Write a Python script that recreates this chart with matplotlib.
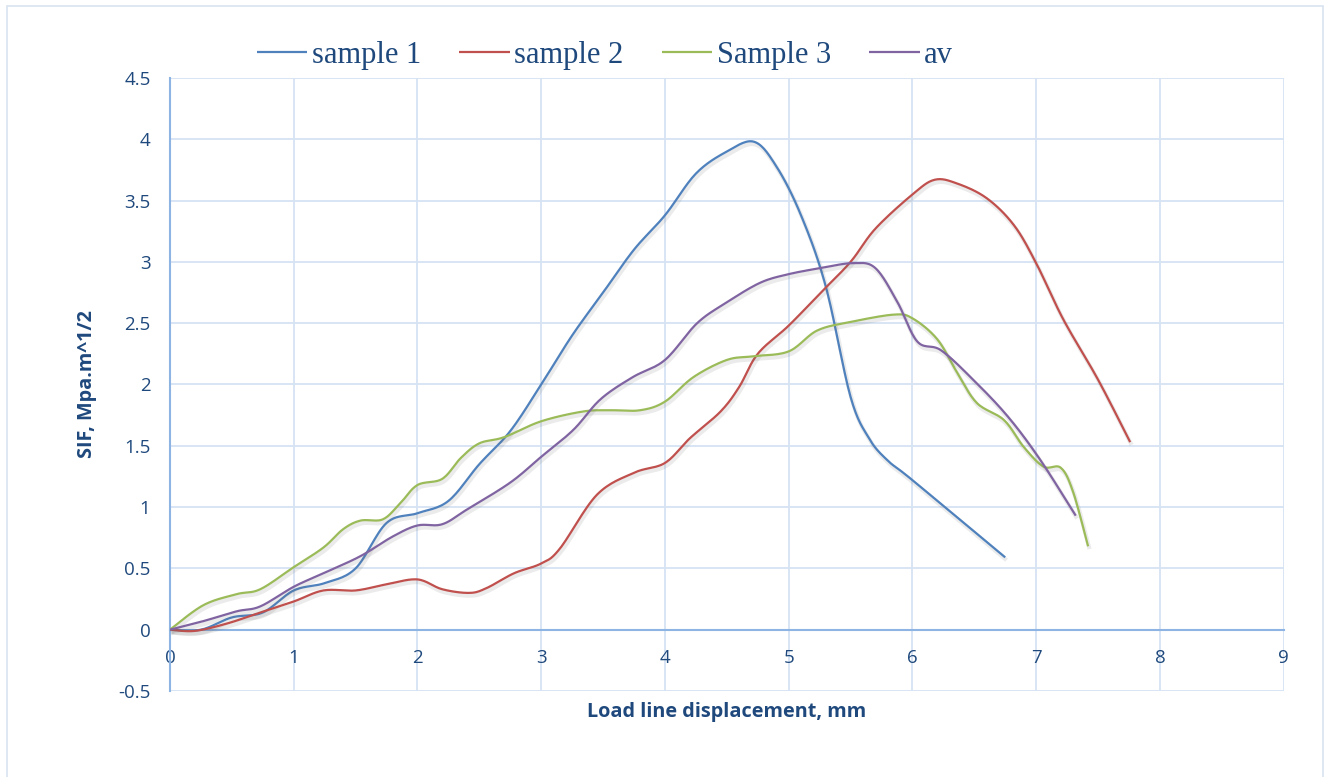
import numpy as np
import matplotlib.pyplot as plt
import matplotlib.patheffects as pe
from matplotlib.patches import Rectangle

# load line displacement (mm) vs SIF readings
x1 = [0, 0.25, 0.5, 0.75, 1.0, 1.25, 1.5, 1.75, 2.0, 2.25, 2.5, 2.75, 3.0, 3.25, 3.5,
      3.75, 4.0, 4.25, 4.5, 4.72, 4.9, 5.1, 5.3, 5.5, 5.65, 5.8, 6.0, 6.75]
y1 = [0, 0.0, 0.1, 0.14, 0.32, 0.38, 0.5, 0.87, 0.95, 1.05, 1.35, 1.62, 2.0, 2.4, 2.75,
      3.1, 3.38, 3.72, 3.9, 3.98, 3.78, 3.38, 2.8, 1.9, 1.56, 1.38, 1.22, 0.59]

x2 = [0, 0.2, 0.46, 0.73, 1.0, 1.24, 1.5, 1.75, 2.0, 2.2, 2.42, 2.56, 2.78, 3.0, 3.15,
      3.45, 3.75, 4.0, 4.2, 4.45, 4.6, 4.75, 5.0, 5.26, 5.5, 5.7, 6.0, 6.18, 6.36,
      6.6, 6.82, 7.0, 7.22, 7.5, 7.76]
y2 = [0, -0.01, 0.05, 0.14, 0.23, 0.32, 0.32, 0.37, 0.41, 0.33, 0.3, 0.34, 0.46, 0.54, 0.66,
      1.1, 1.28, 1.36, 1.56, 1.78, 1.98, 2.25, 2.48, 2.75, 3.0, 3.27, 3.55, 3.67, 3.64,
      3.52, 3.3, 2.99, 2.53, 2.04, 1.53]

x3 = [0, 0.27, 0.54, 0.73, 1.0, 1.24, 1.4, 1.54, 1.72, 1.86, 2.0, 2.2, 2.35, 2.5, 2.7,
      3.0, 3.34, 3.56, 3.8, 4.0, 4.23, 4.5, 4.71, 5.0, 5.23, 5.5, 5.85, 6.0, 6.2, 6.36,
      6.52, 6.74, 6.9, 7.06, 7.2, 7.3, 7.42]
y3 = [0, 0.2, 0.29, 0.33, 0.51, 0.67, 0.82, 0.89, 0.9, 1.03, 1.18, 1.23, 1.4, 1.52, 1.57,
      1.7, 1.78, 1.79, 1.79, 1.86, 2.06, 2.2, 2.23, 2.27, 2.44, 2.51, 2.57, 2.54, 2.37, 2.1,
      1.85, 1.71, 1.49, 1.33, 1.32, 1.12, 0.68]

x4 = [0, 0.27, 0.54, 0.73, 1.0, 1.24, 1.54, 1.8, 2.0, 2.2, 2.4, 2.75, 3.0, 3.26, 3.48,
      3.74, 4.0, 4.26, 4.5, 4.77, 5.0, 5.26, 5.52, 5.7, 5.88, 6.04, 6.23, 6.49, 6.77,
      7.03, 7.32]
y4 = [0, 0.07, 0.15, 0.19, 0.35, 0.46, 0.6, 0.76, 0.85, 0.86, 0.98, 1.2, 1.41, 1.63, 1.88,
      2.06, 2.2, 2.5, 2.67, 2.83, 2.9, 2.95, 2.99, 2.95, 2.67, 2.35, 2.28, 2.04, 1.74,
      1.39, 0.93]

names = ['sample 1', 'sample 2', 'Sample 3', 'av']
colors = ['#4F81BD', '#C0504D', '#9BBB59', '#8064A2']

x_ticks = np.arange(0, 10, 1)
y_ticks = np.arange(-0.5, 5.0, 0.5)


def smooth(x, y, n=16):
    # catmull-rom style smoothing, like a spreadsheet "smoothed line"
    x = np.asarray(x, float)
    y = np.asarray(y, float)
    px = np.concatenate([[x[0]], x, [x[-1]]])
    py = np.concatenate([[y[0]], y, [y[-1]]])
    ox, oy = [], []
    t = np.linspace(0, 1, n, endpoint=False)
    for i in range(1, len(px) - 2):
        p0, p1, p2, p3 = (np.array([px[j], py[j]]) for j in range(i - 1, i + 3))
        c1 = p1 + (p2 - p0) / 6
        c2 = p2 - (p3 - p1) / 6
        for tt in t:
            b = ((1 - tt) ** 3) * p1 + 3 * ((1 - tt) ** 2) * tt * c1 + 3 * (1 - tt) * tt ** 2 * c2 + tt ** 3 * p2
            ox.append(b[0])
            oy.append(b[1])
    ox.append(x[-1])
    oy.append(y[-1])
    return ox, oy


fig = plt.figure(figsize=(13.31, 7.77), dpi=100)
ax = fig.add_axes([0.1277, 0.1107, 0.8367, 0.7889])

# outer frame of the chart
fig.patches.append(Rectangle((7 / 1331, -0.01), 1316 / 1331, 1 - 6 / 777 + 0.01,
                             transform=fig.transFigure, fill=False,
                             edgecolor='#D9E3F0', linewidth=1.2))

axis_blue = '#8EB4E3'
grid_blue = '#D6E3F3'
text_blue = '#1F497D'

shadow = [pe.SimpleLineShadow(offset=(1, -2), shadow_color='#666666', alpha=0.13, linewidth=3.0),
          pe.Normal()]

for xs, ys, c, nm in zip([x1, x2, x3, x4], [y1, y2, y3, y4], colors, names):
    sx, sy = smooth(xs, ys)
    ax.plot(sx, sy, color=c, lw=1.6, label=nm, path_effects=shadow, zorder=3,
            solid_capstyle='butt')

ax.set_xlim(0, 9)
ax.set_ylim(-0.5, 4.5)
ax.set_xticks(x_ticks)
ax.set_yticks(y_ticks)
ax.set_yticklabels(['-0.5', '0', '0.5', '1', '1.5', '2', '2.5', '3', '3.5', '4', '4.5'])
ax.grid(True, color=grid_blue, lw=1.3, zorder=0)
ax.set_axisbelow(True)

for s in ['top', 'right']:
    ax.spines[s].set_visible(False)
ax.spines['left'].set_color(axis_blue)
ax.spines['left'].set_linewidth(1.5)
ax.spines['bottom'].set_position(('data', 0))
ax.spines['bottom'].set_color(axis_blue)
ax.spines['bottom'].set_linewidth(1.5)
ax.spines['bottom'].set_zorder(2)

ax.tick_params(length=0, labelsize=13.5, labelcolor=text_blue)
ax.tick_params(axis='x', pad=14)
ax.tick_params(axis='y', pad=14)
for lab in ax.get_xticklabels() + ax.get_yticklabels():
    lab.set_family('Open Sans')

ax.set_xlabel('Load line displacement, mm', fontsize=14.3, fontweight='bold',
              color=text_blue, family='Open Sans')
ax.xaxis.label.set_va('center')
ax.xaxis.set_label_coords(0.5, -0.0343)
ax.set_ylabel('SIF, Mpa.m^1/2', fontsize=14.3, fontweight='bold',
              color=text_blue, family='Open Sans')
ax.yaxis.label.set_va('center')
ax.yaxis.set_label_coords(-0.0746, 0.5)

leg = fig.legend(loc='center', bbox_to_anchor=(0.4545, 0.929), ncol=4, frameon=False,
                 prop={'family': 'Liberation Serif', 'size': 22},
                 handlelength=1.65, handletextpad=0.15, columnspacing=1.25,
                 borderaxespad=0.0)
for t in leg.get_texts():
    t.set_color(text_blue)
for h in leg.get_lines():
    h.set_path_effects([])
    h.set_linewidth(1.6)

fig.savefig('out.png', dpi=100)
